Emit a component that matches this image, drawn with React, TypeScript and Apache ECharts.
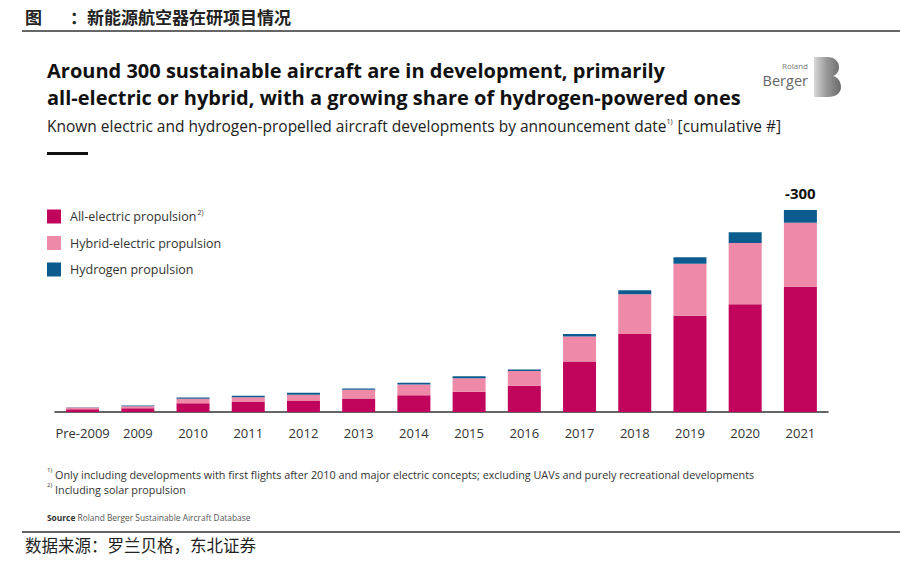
import React, { useEffect, useRef } from "react";
import * as echarts from "echarts";

const categories = ["Pre-2009", "2009", "2010", "2011", "2012", "2013", "2014", "2015", "2016", "2017", "2018", "2019", "2020", "2021"];
const allElectric = [4, 5.5, 13, 15, 17, 20, 25, 30, 39, 75, 116, 143, 160, 186];
const hybridElectric = [2.5, 3, 6.5, 7, 8.5, 13, 16, 20, 22, 37, 59, 77, 91, 95];
const hydrogen = [0.6, 1, 2, 2, 3, 2, 2.5, 3, 2, 4, 6, 10, 16, 19];
const totalLabel = "-300";
const seriesNames = ["All-electric propulsion", "Hybrid-electric propulsion", "Hydrogen propulsion"];

const COLORS = ["#C2055C", "#EE89A7", "#0C5B8F"];
const SANS = "'Open Sans', 'Noto Sans', sans-serif";
const CJK = "'Noto Sans CJK SC', sans-serif";

echarts.graphic.registerShape(
  "rbB",
  echarts.graphic.extendPath(
    "M0 0 H13 C21 0 25 5 25 10 C25 15 22 18 19 19 C24 20 27 25 27 30 C27 36 22 40 14 40 H0 Z",
    {}
  )
);

export default function App() {
  const ref = useRef<HTMLDivElement>(null);
  useEffect(() => {
    if (!ref.current) return;
    const chart = echarts.init(ref.current, null, { renderer: "svg" });
    const last = hydrogen.length - 1;
    const option = {
      animation: false,
      backgroundColor: "#ffffff",
      grid: { left: 55, right: 72, top: 210, bottom: 149, containLabel: false },
      legend: {
        orient: "vertical",
        left: 47,
        top: 209,
        padding: 0,
        itemWidth: 14,
        itemHeight: 14,
        itemGap: 12.5,
        icon: "rect",
        selectedMode: false,
        data: seriesNames,
        formatter: (name: string) => (name === seriesNames[0] ? name + "{sup|2)}" : name),
        textStyle: {
          fontFamily: SANS,
          fontSize: 12.5,
          color: "#333",
          padding: [0, 0, 0, 4],
          rich: { sup: { fontSize: 7, verticalAlign: "top", padding: [0, 0, 8, 1], color: "#333", fontFamily: SANS } },
        },
      },
      xAxis: {
        type: "category",
        data: categories,
        axisLine: { lineStyle: { color: "#333", width: 1.5 } },
        axisTick: { show: false },
        axisLabel: { interval: 0, fontFamily: SANS, fontSize: 13, color: "#333", margin: 14 },
      },
      yAxis: { type: "value", min: 0, max: 300, show: false, splitLine: { show: false } },
      series: [
        { name: seriesNames[0], type: "bar", stack: "t", barWidth: 33, data: allElectric, itemStyle: { color: COLORS[0] } },
        { name: seriesNames[1], type: "bar", stack: "t", barWidth: 33, data: hybridElectric, itemStyle: { color: COLORS[1] } },
        {
          name: seriesNames[2],
          type: "bar",
          stack: "t",
          barWidth: 33,
          itemStyle: { color: COLORS[2] },
          data: hydrogen.map((v, i) =>
            i === last
              ? {
                  value: v,
                  label: {
                    show: true,
                    position: "top",
                    distance: 10,
                    formatter: totalLabel,
                    fontFamily: SANS,
                    fontWeight: "bold",
                    fontSize: 15,
                    color: "#111",
                  },
                }
              : v
          ),
        },
      ],
      graphic: [
        { type: "text", left: 25, top: 8, style: { text: "图", font: `bold 17px ${CJK}`, fill: "#222" } },
        { type: "text", left: 70, top: 8, style: { text: "：新能源航空器在研项目情况", font: `bold 17px ${CJK}`, fill: "#222" } },
        { type: "line", shape: { x1: 22, y1: 31, x2: 900, y2: 31 }, style: { stroke: "#666", lineWidth: 2 } },
        {
          type: "text",
          left: 47,
          top: 57,
          style: {
            text: "Around 300 sustainable aircraft are in development, primarily\nall-electric or hybrid, with a growing share of hydrogen-powered ones",
            font: `bold 20px ${SANS}`,
            lineHeight: 27,
            fill: "#111",
          },
        },
        {
          type: "text",
          left: 47,
          top: 118,
          style: {
            text: "Known electric and hydrogen-propelled aircraft developments by announcement date{s|1)} [cumulative #]",
            font: `15.5px ${SANS}`,
            fill: "#222",
            rich: { s: { fontSize: 7, verticalAlign: "top", padding: [0, 1, 9, 0], fontFamily: SANS, fill: "#222" } },
          },
        },
        { type: "rect", shape: { x: 47, y: 152, width: 41, height: 3 }, style: { fill: "#111" } },
        { type: "text", style: { x: 808, y: 60, text: "Roland", font: `8px ${SANS}`, lineHeight: 10, fill: "#777", textAlign: "right" } },
        { type: "text", style: { x: 808, y: 71, text: "Berger", font: `14.5px ${SANS}`, lineHeight: 18, fill: "#666", textAlign: "right" } },
        {
          type: "rbB",
          x: 814,
          y: 57,
          scaleX: 1,
          scaleY: 1,
          style: {
            fill: new echarts.graphic.LinearGradient(0, 0, 1, 0, [
              { offset: 0, color: "#d8d8d8" },
              { offset: 0.45, color: "#9a9a9a" },
              { offset: 1, color: "#6a6a6a" },
            ]),
          },
        },
        {
          type: "text",
          left: 47,
          top: 467,
          style: {
            text: "{s|1)} Only including developments with first flights after 2010 and major electric concepts; excluding UAVs and purely recreational developments\n{s|2)} Including solar propulsion",
            font: `10.8px ${SANS}`,
            lineHeight: 15,
            fill: "#333",
            rich: { s: { fontSize: 6, verticalAlign: "top", padding: [0, 0, 6, 0], fontFamily: SANS, fill: "#333" } },
          },
        },
        {
          type: "text",
          left: 47,
          top: 513,
          style: {
            text: "{b|Source} Roland Berger Sustainable Aircraft Database",
            font: `8.4px ${SANS}`,
            fill: "#555",
            rich: { b: { fontWeight: "bold", fontSize: 8.4, fontFamily: SANS, fill: "#333" } },
          },
        },
        { type: "line", shape: { x1: 22, y1: 532, x2: 900, y2: 532 }, style: { stroke: "#666", lineWidth: 2 } },
        { type: "text", left: 25, top: 537, style: { text: "数据来源：罗兰贝格，东北证券", font: `16.5px ${CJK}`, fill: "#222" } },
      ],
    };
    chart.setOption(option as any);
    return () => chart.dispose();
  }, []);
  return <div ref={ref} style={{ position: "fixed", left: 0, top: 0, width: 900, height: 561 }} />;
}
